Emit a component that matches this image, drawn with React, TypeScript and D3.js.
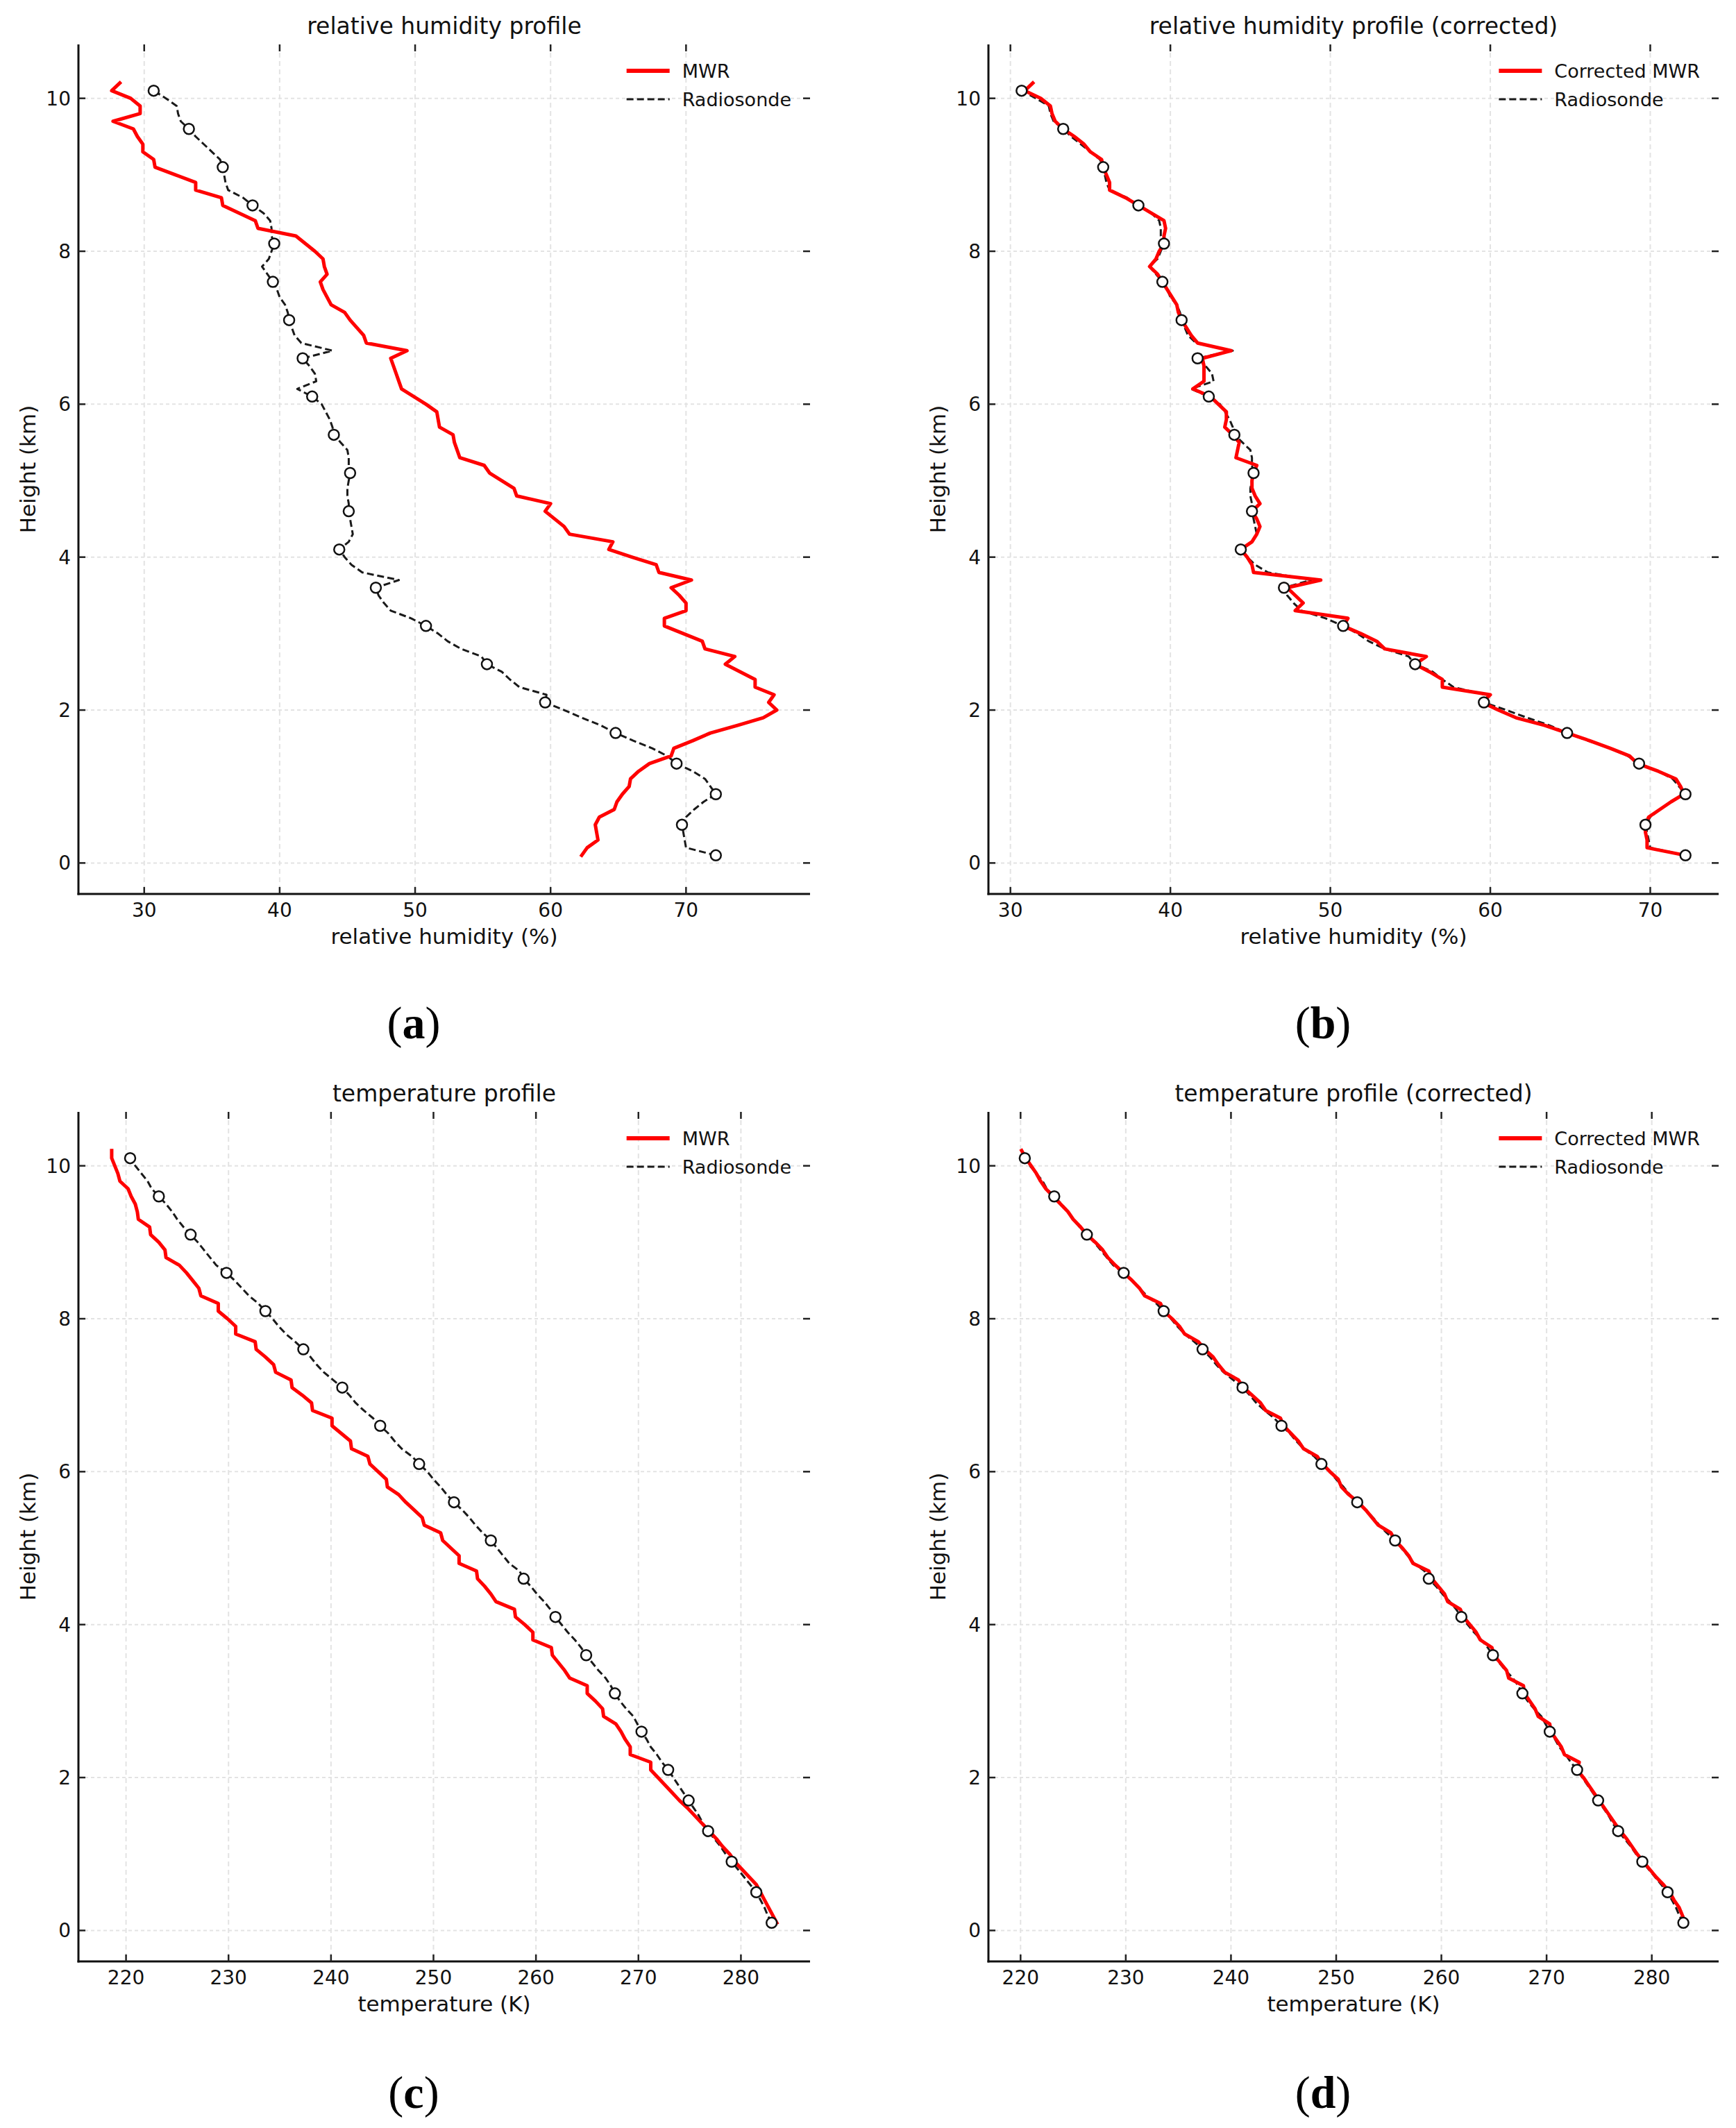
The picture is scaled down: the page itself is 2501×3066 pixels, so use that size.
import { useEffect, useRef } from 'react';
import * as d3 from 'd3';

// heights (km) of the profile levels, bottom to top
const HEIGHTS = [
    0.1, 0.2, 0.3, 0.4, 0.5, 0.6, 0.7, 0.8, 0.9, 1.0,
    1.1, 1.2, 1.3, 1.4, 1.5, 1.6, 1.7, 1.8, 1.9, 2.0,
    2.1, 2.2, 2.3, 2.4, 2.5, 2.6, 2.7, 2.8, 2.9, 3.0,
    3.1, 3.2, 3.3, 3.4, 3.5, 3.6, 3.7, 3.8, 3.9, 4.0,
    4.1, 4.2, 4.3, 4.4, 4.5, 4.6, 4.7, 4.8, 4.9, 5.0,
    5.1, 5.2, 5.3, 5.4, 5.5, 5.6, 5.7, 5.8, 5.9, 6.0,
    6.1, 6.2, 6.3, 6.4, 6.5, 6.6, 6.7, 6.8, 6.9, 7.0,
    7.1, 7.2, 7.3, 7.4, 7.5, 7.6, 7.7, 7.8, 7.9, 8.0,
    8.1, 8.2, 8.3, 8.4, 8.5, 8.6, 8.7, 8.8, 8.9, 9.0,
    9.1, 9.2, 9.3, 9.4, 9.5, 9.6, 9.7, 9.8, 9.9, 10.0,
    10.1, 10.2,
];

// radiosonde levels that carry a circle marker
const MARKER_HEIGHTS = [0.1, 0.5, 0.9, 1.3, 1.7, 2.1, 2.6, 3.1, 3.6, 4.1, 4.6, 5.1, 5.6, 6.1, 6.6, 7.1, 7.6, 8.1, 8.6, 9.1, 9.6, 10.1];

// relative humidity (%)
const RH_MWR = [
    62.3, 62.7, 63.5, 63.4, 63.3, 63.6, 64.7, 64.9, 65.3, 65.8,
    65.9, 66.5, 67.3, 68.9, 69.1, 70.5, 71.8, 73.8, 75.7, 76.7,
    76.1, 76.5, 75.1, 75.1, 74.0, 72.9, 73.6, 71.4, 71.2, 69.8,
    68.4, 68.4, 70.0, 70.0, 69.5, 68.9, 70.4, 68.0, 67.8, 66.0,
    64.3, 64.6, 61.4, 61.0, 60.3, 59.6, 60.0, 57.5, 57.3, 56.4,
    55.5, 55.1, 53.3, 53.1, 52.9, 52.8, 51.8, 51.7, 51.6, 50.8,
    49.9, 49.0, 48.8, 48.6, 48.4, 48.2, 49.4, 46.4, 46.2, 45.7,
    45.2, 44.8, 43.8, 43.5, 43.2, 43.0, 43.5, 43.3, 43.2, 42.6,
    41.9, 41.2, 38.4, 38.2, 37.0, 35.8, 35.7, 33.8, 33.8, 32.3,
    30.8, 30.7, 29.9, 29.9, 29.5, 29.2, 27.7, 29.7, 29.7, 29.0,
    27.6, 28.2,
];

const RH_SONDE = [
    72.2, 70.0, 69.9, 69.8, 69.7, 70.0, 70.6, 71.3, 72.2, 71.8,
    71.4, 70.5, 69.3, 68.6, 67.5, 66.1, 64.8, 63.7, 62.3, 61.0,
    59.6, 59.7, 57.7, 57.0, 56.4, 55.3, 54.9, 53.4, 52.4, 51.7,
    50.8, 49.7, 48.2, 47.7, 47.3, 47.1, 48.8, 46.1, 45.3, 44.8,
    44.4, 45.1, 45.4, 45.3, 45.2, 45.1, 45.1, 45.0, 45.0, 45.1,
    45.2, 45.1, 45.1, 45.0, 44.5, 44.0, 43.9, 43.7, 43.4, 43.1,
    42.4, 41.3, 42.7, 42.6, 42.2, 41.7, 43.9, 41.6, 41.1, 40.9,
    40.7, 40.6, 40.4, 40.0, 39.8, 39.5, 39.1, 38.7, 39.2, 39.4,
    39.6, 39.4, 39.4, 39.3, 38.8, 38.0, 37.3, 36.2, 36.0, 35.9,
    35.8, 35.6, 35.0, 34.4, 33.8, 33.3, 32.7, 32.5, 32.4, 31.6,
    30.7,
];

const RH_CORRECTED = [
    72.2, 69.8, 69.8, 69.7, 69.7, 69.9, 70.6, 71.3, 72.1, 71.9,
    71.6, 70.5, 69.2, 68.7, 67.5, 66.2, 64.8, 63.4, 61.6, 60.5,
    59.5, 60.0, 57.0, 57.0, 56.2, 55.3, 56.0, 53.4, 52.9, 51.9,
    50.8, 51.1, 47.8, 48.3, 47.8, 47.3, 49.4, 45.2, 45.1, 44.8,
    44.4, 45.1, 45.4, 45.6, 45.4, 45.1, 45.6, 45.3, 45.1, 45.1,
    45.2, 45.4, 44.1, 44.2, 44.3, 43.9, 43.4, 43.5, 43.5, 43.0,
    42.5, 41.4, 42.1, 42.1, 42.1, 42.0, 43.8, 41.7, 41.3, 41.0,
    40.7, 40.5, 40.4, 40.1, 39.8, 39.5, 39.2, 38.7, 39.1, 39.3,
    39.6, 39.6, 39.7, 39.6, 38.8, 38.0, 37.2, 36.2, 36.2, 36.0,
    35.8, 35.7, 35.0, 34.6, 34.0, 33.3, 32.8, 32.6, 32.5, 31.9,
    30.9, 31.4,
];

// temperature (K)
const T_MWR = [
    283.5, 283.1, 282.7, 282.3, 281.9, 281.5, 280.8, 280.1, 279.4, 278.9,
    278.2, 277.6, 276.9, 276.2, 275.5, 274.8, 274.0, 273.3, 272.6, 271.9,
    271.2, 271.2, 269.2, 269.2, 268.7, 268.3, 267.8, 266.6, 266.5, 265.8,
    265.0, 265.0, 263.3, 262.8, 262.2, 261.6, 261.5, 259.7, 259.7, 258.9,
    258.0, 257.9, 256.1, 255.6, 255.0, 254.3, 254.2, 252.5, 252.5, 251.7,
    250.9, 250.7, 249.1, 248.9, 248.1, 247.3, 246.6, 245.5, 245.4, 244.6,
    243.8, 243.6, 242.0, 241.9, 241.0, 240.1, 240.1, 238.2, 238.1, 237.2,
    236.2, 236.1, 234.6, 234.4, 233.6, 232.7, 232.6, 230.7, 230.7, 229.9,
    229.0, 229.0, 227.3, 227.1, 226.5, 225.9, 225.2, 223.9, 223.8, 223.2,
    222.4, 222.3, 221.2, 221.1, 220.9, 220.5, 220.2, 219.4, 219.2, 218.9,
    218.6, 218.6,
];

const T_SONDE = [
    283.0, 282.6, 282.3, 281.9, 281.5, 280.9, 280.3, 279.7, 279.1, 278.5,
    278.0, 277.4, 276.8, 276.3, 275.9, 275.4, 274.9, 274.4, 273.9, 273.4,
    272.9, 272.3, 271.8, 271.2, 270.8, 270.3, 269.9, 269.5, 268.8, 268.2,
    267.7, 267.3, 266.8, 266.1, 265.5, 264.9, 264.4, 263.8, 263.1, 262.5,
    261.9, 261.4, 260.8, 260.1, 259.5, 258.8, 258.4, 257.4, 256.8, 256.2,
    255.6, 254.8, 254.1, 253.5, 252.8, 252.0, 251.3, 250.7, 250.0, 249.4,
    248.6, 247.9, 246.9, 246.2, 245.6, 244.8, 244.1, 243.2, 242.4, 241.8,
    241.1, 240.2, 239.3, 238.6, 238.0, 237.3, 236.5, 235.6, 234.9, 234.3,
    233.6, 232.9, 232.0, 231.3, 230.6, 229.8, 228.8, 228.2, 227.6, 227.0,
    226.3, 225.6, 225.0, 224.5, 223.9, 223.2, 222.5, 222.1, 221.5, 220.9,
    220.4,
];

const T_CORRECTED = [
    283.2, 282.9, 282.6, 282.1, 281.7, 281.1, 280.4, 279.8, 279.2, 278.6,
    278.1, 277.6, 277.0, 276.5, 276.0, 275.5, 275.0, 274.5, 274.0, 273.5,
    272.9, 273.1, 271.7, 271.4, 270.9, 270.4, 270.3, 269.2, 268.9, 268.4,
    267.9, 267.8, 266.4, 266.2, 265.6, 265.0, 264.8, 263.7, 263.3, 262.7,
    262.1, 261.8, 260.6, 260.3, 259.7, 259.1, 258.8, 257.3, 256.9, 256.3,
    255.6, 255.2, 254.0, 253.4, 252.8, 252.1, 251.2, 250.5, 250.2, 249.4,
    248.7, 248.2, 246.9, 246.4, 245.7, 245.0, 244.7, 243.3, 242.8, 242.0,
    241.2, 240.7, 239.4, 238.8, 238.3, 237.5, 236.9, 235.6, 235.1, 234.4,
    233.6, 233.3, 231.8, 231.3, 230.6, 229.8, 229.0, 228.3, 227.8, 227.1,
    226.3, 225.7, 225.0, 224.5, 223.8, 223.1, 222.4, 221.9, 221.5, 221.0,
    220.5, 220.1,
];

const RH_TICKS = [30, 40, 50, 60, 70];
const T_TICKS = [220, 230, 240, 250, 260, 270, 280];
const HEIGHT_TICKS = [0, 2, 4, 6, 8, 10];

const W = 2501;
const H = 3066;
const SANS = 'DejaVu Sans, Liberation Sans, sans-serif';

type Panel = {
    tag: string,
    title: string,
    xLabel: string,
    xTicks: number[],
    model: number[],
    sonde: number[],
    modelName: string,
    left: number,
    right: number,
    top: number,
    bottom: number,
    tagX: number,
    tagY: number,
};

const PANELS: Panel[] = [
    { tag: 'a', title: 'relative humidity profile', xLabel: 'relative humidity (%)', xTicks: RH_TICKS, model: RH_MWR, sonde: RH_SONDE, modelName: 'MWR', left: 113, right: 1167, top: 64, bottom: 1288, tagX: 596, tagY: 1496 },
    { tag: 'b', title: 'relative humidity profile (corrected)', xLabel: 'relative humidity (%)', xTicks: RH_TICKS, model: RH_CORRECTED, sonde: RH_SONDE, modelName: 'Corrected MWR', left: 1424, right: 2476, top: 64, bottom: 1288, tagX: 1906, tagY: 1496 },
    { tag: 'c', title: 'temperature profile', xLabel: 'temperature (K)', xTicks: T_TICKS, model: T_MWR, sonde: T_SONDE, modelName: 'MWR', left: 113, right: 1167, top: 1602, bottom: 2826, tagX: 596, tagY: 3037 },
    { tag: 'd', title: 'temperature profile (corrected)', xLabel: 'temperature (K)', xTicks: T_TICKS, model: T_CORRECTED, sonde: T_SONDE, modelName: 'Corrected MWR', left: 1424, right: 2476, top: 1602, bottom: 2826, tagX: 1906, tagY: 3037 },
];

function padded(values: number[]): [number, number] {
    const [lo, hi] = d3.extent(values) as [number, number];
    const pad = (hi - lo) * 0.05;
    return [lo - pad, hi + pad];
}

function drawPanel(svg: d3.Selection<SVGSVGElement, unknown, null, undefined>, p: Panel) {
    const x = d3.scaleLinear().domain(padded([...p.model, ...p.sonde])).range([p.left, p.right]);
    const y = d3.scaleLinear().domain(padded(HEIGHTS)).range([p.bottom, p.top]);
    const g = svg.append('g').attr('id', `panel-${p.tag}`);

    // grid
    const grid = g.append('g').attr('stroke', '#e3e3e3').attr('stroke-width', 2);
    grid.selectAll('line.vx').data(p.xTicks).join('line')
        .attr('class', 'vx')
        .attr('x1', d => x(d)).attr('x2', d => x(d))
        .attr('y1', p.top).attr('y2', p.bottom)
        .attr('stroke-dasharray', '7,5');
    grid.selectAll('line.hy').data(HEIGHT_TICKS).join('line')
        .attr('class', 'hy')
        .attr('x1', p.left).attr('x2', p.right)
        .attr('y1', d => y(d)).attr('y2', d => y(d))
        .attr('stroke-dasharray', '5,4');

    const line = d3.line<number>()
        .x(d => x(d))
        .y((_, i) => y(HEIGHTS[i]));

    g.append('path')
        .attr('d', line(p.sonde))
        .attr('fill', 'none')
        .attr('stroke', '#1a1a1a')
        .attr('stroke-width', 3)
        .attr('stroke-dasharray', '10,5')
        .attr('stroke-linejoin', 'round');

    g.append('path')
        .attr('d', line(p.model))
        .attr('fill', 'none')
        .attr('stroke', '#ff0000')
        .attr('stroke-width', 5)
        .attr('stroke-linejoin', 'round')
        .attr('stroke-linecap', 'square');

    const marks = p.sonde
        .map((v, i) => ({ v, h: HEIGHTS[i] }))
        .filter(d => MARKER_HEIGHTS.some(m => Math.abs(m - d.h) < 1e-6));
    g.selectAll('circle.mk').data(marks).join('circle')
        .attr('class', 'mk')
        .attr('cx', d => x(d.v))
        .attr('cy', d => y(d.h))
        .attr('r', 7.5)
        .attr('fill', '#fff')
        .attr('stroke', '#111')
        .attr('stroke-width', 2.5);

    // spines
    g.append('line').attr('x1', p.left).attr('x2', p.left).attr('y1', p.top).attr('y2', p.bottom + 1.5)
        .attr('stroke', '#111').attr('stroke-width', 3);
    g.append('line').attr('x1', p.left - 1.5).attr('x2', p.right).attr('y1', p.bottom).attr('y2', p.bottom)
        .attr('stroke', '#111').attr('stroke-width', 3);

    // inward ticks on all four sides
    const ticks = g.append('g').attr('stroke', '#222').attr('stroke-width', 2.5);
    p.xTicks.forEach(t => {
        ticks.append('line').attr('x1', x(t)).attr('x2', x(t)).attr('y1', p.top).attr('y2', p.top + 10);
        ticks.append('line').attr('x1', x(t)).attr('x2', x(t)).attr('y1', p.bottom).attr('y2', p.bottom - 10);
    });
    HEIGHT_TICKS.forEach(t => {
        ticks.append('line').attr('x1', p.left).attr('x2', p.left + 10).attr('y1', y(t)).attr('y2', y(t));
        ticks.append('line').attr('x1', p.right).attr('x2', p.right - 10).attr('y1', y(t)).attr('y2', y(t));
    });

    // tick labels
    g.selectAll('text.xt').data(p.xTicks).join('text')
        .attr('class', 'xt')
        .attr('x', d => x(d)).attr('y', p.bottom + 33)
        .attr('text-anchor', 'middle')
        .attr('font-family', SANS).attr('font-size', 28).attr('fill', '#111')
        .text(d => String(d));
    g.selectAll('text.yt').data(HEIGHT_TICKS).join('text')
        .attr('class', 'yt')
        .attr('x', p.left - 11).attr('y', d => y(d) + 10)
        .attr('text-anchor', 'end')
        .attr('font-family', SANS).attr('font-size', 28).attr('fill', '#111')
        .text(d => String(d));

    // axis labels and title
    g.append('text')
        .attr('x', (p.left + p.right) / 2).attr('y', p.bottom + 72)
        .attr('text-anchor', 'middle')
        .attr('font-family', SANS).attr('font-size', 31).attr('fill', '#111')
        .text(p.xLabel);
    g.append('text')
        .attr('transform', `translate(${p.left - 62}, ${(p.top + p.bottom) / 2}) rotate(-90)`)
        .attr('text-anchor', 'middle')
        .attr('font-family', SANS).attr('font-size', 31).attr('fill', '#111')
        .text('Height (km)');
    g.append('text')
        .attr('x', (p.left + p.right) / 2).attr('y', p.top - 15)
        .attr('text-anchor', 'middle')
        .attr('font-family', SANS).attr('font-size', 33).attr('fill', '#111')
        .text(p.title);

    // legend, right aligned inside the axes
    const leg = g.append('g');
    const items = [
        { name: p.modelName, color: '#ff0000', width: 6, dash: null as string | null },
        { name: 'Radiosonde', color: '#1a1a1a', width: 3, dash: '10,5' },
    ];
    const labels = items.map((it, i) => leg.append('text')
        .attr('y', p.top + 48 + i * 41)
        .attr('font-family', SANS).attr('font-size', 27).attr('fill', '#111')
        .text(it.name));
    const textW = d3.max(labels, l => (l.node() as SVGTextElement).getComputedTextLength()) ?? 0;
    const textX = p.right - 27 - textW;
    const handleX = textX - 80;
    labels.forEach(l => l.attr('x', textX));
    items.forEach((it, i) => {
        const ly = p.top + 38 + i * 41;
        const hl = leg.append('line')
            .attr('x1', handleX).attr('x2', handleX + 62)
            .attr('y1', ly).attr('y2', ly)
            .attr('stroke', it.color).attr('stroke-width', it.width);
        if (it.dash) hl.attr('stroke-dasharray', it.dash);
    });

    // panel tag, e.g. (a)
    const tag = svg.append('text')
        .attr('x', p.tagX).attr('y', p.tagY)
        .attr('text-anchor', 'middle')
        .attr('font-family', 'Liberation Serif, DejaVu Serif, serif')
        .attr('font-size', 66).attr('fill', '#000');
    tag.append('tspan').text('(');
    tag.append('tspan').attr('font-weight', 'bold').text(p.tag);
    tag.append('tspan').text(')');
}

export default function App() {
    const svgEl = useRef<SVGSVGElement>(null);

    useEffect(() => {
        if (!svgEl.current) return;
        const svg = d3.select(svgEl.current);
        svg.selectChildren().remove();
        svg.append('rect').attr('width', W).attr('height', H).attr('fill', '#fff');
        PANELS.forEach(p => drawPanel(svg, p));
    }, []);

    return <svg ref={svgEl} width={W} height={H}
        style={{ position: 'absolute', left: 0, top: 0, display: 'block' }}>
    </svg>
}
